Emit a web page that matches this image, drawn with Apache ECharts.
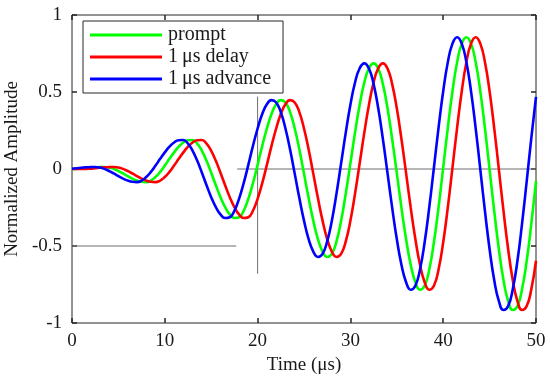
<!DOCTYPE html>
<html>
<head>
<meta charset="utf-8">
<script src="https://cdn.jsdelivr.net/npm/echarts@6/dist/echarts.min.js"></script>
<style>html,body{margin:0;padding:0;background:#fff;}#c{width:550px;height:386px;}</style>
</head>
<body>
<div id="c"></div>
<script>
var timeUs = [0,0.5,1,1.5,2,2.5,3,3.5,4,4.5,5,5.5,6,6.5,7,7.5,8,8.5,9,9.5,
10,10.5,11,11.5,12,12.5,13,13.5,14,14.5,15,15.5,16,16.5,17,17.5,18,18.5,19,19.5,
20,20.5,21,21.5,22,22.5,23,23.5,24,24.5,25,25.5,26,26.5,27,27.5,28,28.5,29,29.5,
30,30.5,31,31.5,32,32.5,33,33.5,34,34.5,35,35.5,36,36.5,37,37.5,38,38.5,39,39.5,
40,40.5,41,41.5,42,42.5,43,43.5,44,44.5,45,45.5,46,46.5,47,47.5,48,48.5,49,49.5,50];

var prompt = [0,0.001,0.002,0.005,0.008,0.011,0.012,0.013,0.010,0.001,
-0.013,-0.029,-0.046,-0.063,-0.075,-0.083,-0.085,-0.075,-0.052,-0.019,
0.022,0.066,0.108,0.145,0.172,0.187,0.188,0.165,0.118,0.053,
-0.024,-0.106,-0.183,-0.248,-0.295,-0.318,-0.313,-0.271,-0.194,-0.092,
0.027,0.150,0.263,0.357,0.420,0.447,0.432,0.369,0.263,0.126,
-0.030,-0.189,-0.335,-0.455,-0.536,-0.571,-0.551,-0.470,-0.336,-0.160,
0.037,0.236,0.417,0.562,0.654,0.686,0.652,0.551,0.394,0.195,
-0.027,-0.251,-0.455,-0.622,-0.735,-0.784,-0.758,-0.652,-0.476,-0.248,
0.009,0.269,0.505,0.694,0.814,0.856,0.814,0.693,0.504,0.264,
-0.004,-0.274,-0.521,-0.722,-0.858,-0.916,-0.890,-0.779,-0.596,-0.353,
-0.079];

var delay = [0,0,0,0.001,0.002,0.005,0.008,0.011,0.012,0.013,
0.010,0.001,-0.013,-0.029,-0.046,-0.063,-0.075,-0.083,-0.085,-0.075,
-0.052,-0.019,0.022,0.066,0.108,0.145,0.172,0.187,0.188,0.165,
0.118,0.053,-0.024,-0.106,-0.183,-0.248,-0.295,-0.318,-0.313,-0.271,
-0.194,-0.092,0.027,0.150,0.263,0.357,0.420,0.447,0.432,0.369,
0.263,0.126,-0.030,-0.189,-0.335,-0.455,-0.536,-0.571,-0.551,-0.470,
-0.336,-0.160,0.037,0.236,0.417,0.562,0.654,0.686,0.652,0.551,
0.394,0.195,-0.027,-0.251,-0.455,-0.622,-0.735,-0.784,-0.758,-0.652,
-0.476,-0.248,0.009,0.269,0.505,0.694,0.814,0.856,0.814,0.693,
0.504,0.264,-0.004,-0.274,-0.521,-0.722,-0.858,-0.916,-0.890,-0.779,
-0.596];

var advance = [0.002,0.005,0.008,0.011,0.012,0.013,0.010,0.001,-0.013,-0.029,
-0.046,-0.063,-0.075,-0.083,-0.085,-0.075,-0.052,-0.019,0.022,0.066,
0.108,0.145,0.172,0.187,0.188,0.165,0.118,0.053,-0.024,-0.106,
-0.183,-0.248,-0.295,-0.318,-0.313,-0.271,-0.194,-0.092,0.027,0.150,
0.263,0.357,0.420,0.447,0.432,0.369,0.263,0.126,-0.030,-0.189,
-0.335,-0.455,-0.536,-0.571,-0.551,-0.470,-0.336,-0.160,0.037,0.236,
0.417,0.562,0.654,0.686,0.652,0.551,0.394,0.195,-0.027,-0.251,
-0.455,-0.622,-0.735,-0.784,-0.758,-0.652,-0.476,-0.248,0.009,0.269,
0.505,0.694,0.814,0.856,0.814,0.693,0.504,0.264,-0.004,-0.274,
-0.521,-0.722,-0.858,-0.916,-0.890,-0.779,-0.596,-0.353,-0.079,0.204,
0.468];

var seriesNames = ['prompt', '1\u2009\u03bcs delay', '1\u2009\u03bcs advance'];
var seriesColors = ['#00ff00', '#ff0000', '#0000ff'];

// gray reference guide lines (data coordinates)
var refZeroLine = [[17.8, 0], [50, 0]];
var refHalfLine = [[0, -0.5], [17.7, -0.5]];
var refVertLine = [[20, -0.68], [20, 0.47]];

var xTicks = {min: 0, max: 50, interval: 10};
var yTicks = {min: -1, max: 1, interval: 0.5};

function pairs(xs, ys) { return xs.map(function (x, i) { return [x, ys[i]]; }); }

var font = 'Liberation Serif';
var axisColor = '#262626';
var textColor = '#1a1a1a';

var chart = echarts.init(document.getElementById('c'), null, {renderer: 'canvas'});

function guide(data) {
  return {type: 'line', data: data, showSymbol: false, silent: true, z: 1,
    lineStyle: {color: '#6e6e6e', width: 1}, animation: false};
}
function curve(name, color, vals) {
  return {type: 'line', name: name, data: pairs(timeUs, vals), smooth: true,
    showSymbol: false, symbol: 'none', z: 3, color: color,
    lineStyle: {color: color, width: 2.6}, animation: false};
}
function axLine() { return {show: false, onZero: false}; }
function axTick() { return {show: true, inside: true, length: 5, lineStyle: {color: axisColor, width: 1.5}}; }

chart.setOption({
  animation: false,
  backgroundColor: '#ffffff',
  textStyle: {fontFamily: font},
  grid: {left: 72, right: 14, top: 15, bottom: 63, containLabel: false, outerBoundsMode: 'none',
    show: true, borderColor: axisColor, borderWidth: 1, backgroundColor: 'transparent'},
  legend: {
    orient: 'vertical', left: 83, top: 21,
    padding: [3, 12, 3, 7],
    borderColor: axisColor, borderWidth: 1, backgroundColor: '#ffffff',
    itemWidth: 72, itemHeight: 3, itemGap: 0,
    icon: 'rect',
    textStyle: {fontFamily: font, fontSize: 20, color: textColor, lineHeight: 22, padding: [0, 0, 0, 1]},
    data: seriesNames
  },
  xAxis: [{
    type: 'value', position: 'bottom', min: xTicks.min, max: xTicks.max, interval: xTicks.interval,
    name: 'Time (\u03bcs)', nameLocation: 'middle', nameGap: 31,
    nameTextStyle: {fontFamily: font, fontSize: 19, color: textColor},
    axisLine: axLine(), axisTick: axTick(),
    axisLabel: {fontFamily: font, fontSize: 19, color: textColor, margin: 9},
    splitLine: {show: false}
  }, {
    type: 'value', position: 'top', min: xTicks.min, max: xTicks.max, interval: xTicks.interval,
    axisLine: axLine(), axisTick: axTick(),
    axisLabel: {show: false}, splitLine: {show: false}
  }],
  yAxis: [{
    type: 'value', position: 'left', min: yTicks.min, max: yTicks.max, interval: yTicks.interval,
    name: 'Normalized Amplitude', nameLocation: 'middle', nameGap: 45,
    nameTextStyle: {fontFamily: font, fontSize: 19, color: textColor},
    axisLine: axLine(), axisTick: axTick(),
    axisLabel: {fontFamily: font, fontSize: 19, color: textColor, margin: 10},
    splitLine: {show: false}
  }, {
    type: 'value', position: 'right', min: yTicks.min, max: yTicks.max, interval: yTicks.interval,
    axisLine: axLine(), axisTick: axTick(),
    axisLabel: {show: false}, splitLine: {show: false}
  }],
  series: [
    guide(refZeroLine),
    guide(refHalfLine),
    guide(refVertLine),
    curve(seriesNames[0], seriesColors[0], prompt),
    curve(seriesNames[1], seriesColors[1], delay),
    curve(seriesNames[2], seriesColors[2], advance)
  ]
});
</script>
</body>
</html>
